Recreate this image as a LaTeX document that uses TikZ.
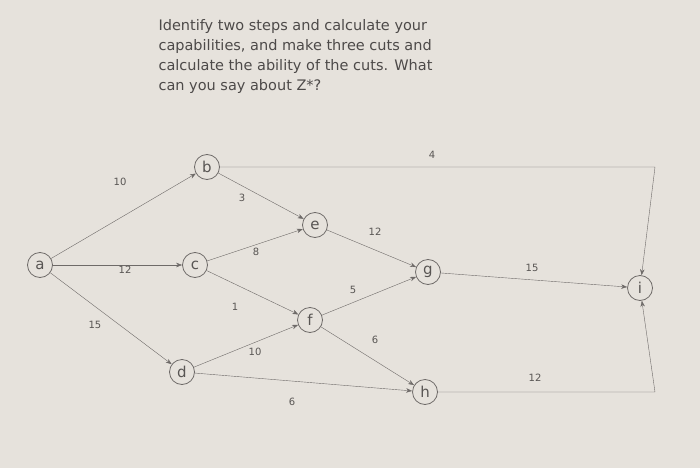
\documentclass[tikz,border=0pt]{standalone}
\usepackage{fontspec}
\setmainfont{DejaVu Sans}
\usetikzlibrary{arrows.meta}
\definecolor{paper}{HTML}{E6E2DC}
\definecolor{pencil}{HTML}{6E6A68}
\begin{document}
\begin{tikzpicture}[x=1pt,y=-1pt,
  vert/.style={circle,draw=pencil,thick,minimum size=25pt,inner sep=0pt,font=\fontsize{15}{15}\selectfont,text=pencil!80!black},
  edge/.style={draw=pencil,-{Stealth[length=6pt]}},
  lbl/.style={font=\fontsize{10}{10}\selectfont,text=pencil!80!black}]
\fill[paper] (0,0) rectangle (700,468);
\useasboundingbox (0,0) rectangle (700,468);
\node[anchor=north west,align=left,text=pencil!70!black,font=\fontsize{14.5}{20}\selectfont] (q) at (155,16)
 {Identify two steps and calculate your\\capabilities, and make three cuts and\\calculate the ability of the cuts. What\\can you say about Z*?};
\node[vert] (a) at (40,265) {a};
\node[vert] (b) at (207,167) {b};
\node[vert] (c) at (195,265) {c};
\node[vert] (d) at (182,372) {d};
\node[vert] (e) at (315,225) {e};
\node[vert] (f) at (310,320) {f};
\node[vert] (g) at (428,272) {g};
\node[vert] (h) at (425,392) {h};
\node[vert] (i) at (640,288) {i};
\coordinate (bi) at (655,167);
\coordinate (hi) at (655,392);
\draw[edge] (a) -- (b);
\draw[edge] (a) -- (c);
\draw[edge] (a) -- (d);
\draw[edge] (b) -- (e);
\draw[edge] (c) -- (e);
\draw[edge] (c) -- (f);
\draw[edge] (d) -- (f);
\draw[edge] (d) -- (h);
\draw[edge] (e) -- (g);
\draw[edge] (f) -- (g);
\draw[edge] (f) -- (h);
\draw[edge] (g) -- (i);
\draw[edge] (b) -- (bi) -- (i);
\draw[edge] (h) -- (hi) -- (i);
\node[lbl] (l1) at (120,182) {10};
\node[lbl] (l2) at (125,270) {12};
\node[lbl] (l3) at (95,325) {15};
\node[lbl] (l4) at (242,198) {3};
\node[lbl] (l5) at (256,252) {8};
\node[lbl] (l6) at (235,307) {1};
\node[lbl] (l7) at (255,352) {10};
\node[lbl] (l8) at (292,402) {6};
\node[lbl] (l9) at (375,232) {12};
\node[lbl] (l10) at (353,290) {5};
\node[lbl] (l11) at (375,340) {6};
\node[lbl] (l12) at (532,268) {15};
\node[lbl] (l13) at (432,155) {4};
\node[lbl] (l14) at (535,378) {12};
\end{tikzpicture}
\end{document}
